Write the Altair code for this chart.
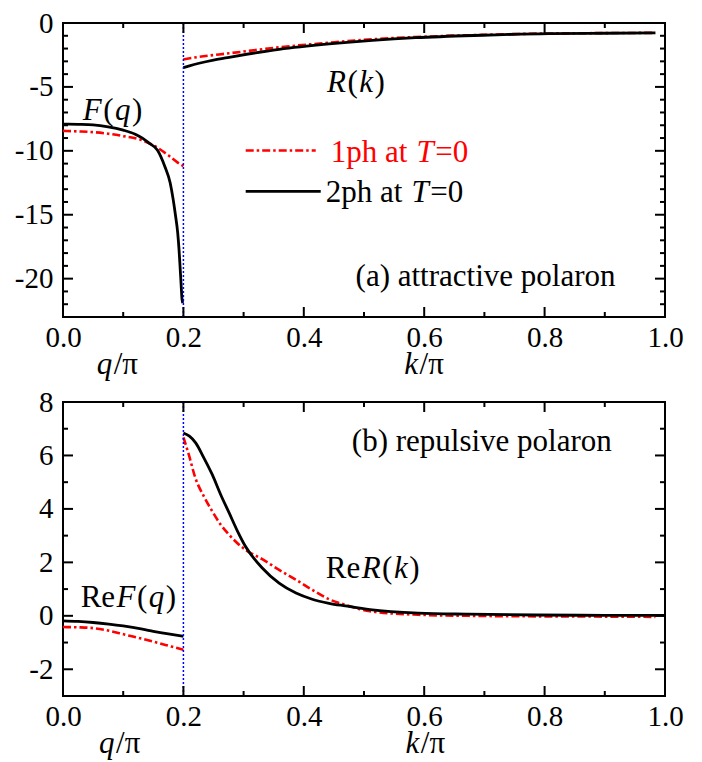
import altair as alt
import pandas as pd

# ---------------- data ----------------
# (a) attractive polaron : F(q) for q in [0,0.2], R(k) for k in [0.2,1]
a_F_1ph_q = [0.0, 0.025, 0.05, 0.075, 0.1, 0.13, 0.155, 0.175, 0.19, 0.2]
a_F_1ph_v = [-8.44, -8.48, -8.54, -8.66, -8.85, -9.15, -9.7, -10.35, -10.9, -11.2]
a_F_2ph_q = [0.0, 0.025, 0.05, 0.075, 0.1, 0.12, 0.132, 0.143, 0.157, 0.169, 0.178,
             0.183, 0.187, 0.1905, 0.1927, 0.1944, 0.196, 0.1977, 0.199]
a_F_2ph_v = [-7.91, -7.93, -7.97, -8.12, -8.38, -8.7, -9.01, -9.4, -9.95, -11.2, -12.5,
             -13.8, -15.1, -16.4, -17.7, -19.0, -20.3, -21.6, -21.9]
a_R_1ph_k = [0.2, 0.226, 0.276, 0.359, 0.442, 0.514, 0.586, 0.696, 0.807, 0.9, 0.984]
a_R_1ph_v = [-2.84, -2.65, -2.37, -1.9, -1.54, -1.27, -1.1, -0.93, -0.82, -0.79, -0.77]
a_R_2ph_k = [0.2, 0.21, 0.226, 0.25, 0.276, 0.359, 0.442, 0.514, 0.586, 0.696, 0.807, 0.9, 0.984]
a_R_2ph_v = [-3.49, -3.35, -3.15, -2.9, -2.68, -2.06, -1.64, -1.36, -1.15, -0.96, -0.83, -0.8, -0.78]

# (b) repulsive polaron : Re F(q), Re R(k)
b_F_1ph_q = [0.0, 0.025, 0.05, 0.075, 0.104, 0.13, 0.159, 0.18, 0.2]
b_F_1ph_v = [-0.42, -0.43, -0.46, -0.55, -0.71, -0.85, -1.02, -1.15, -1.27]
b_F_2ph_q = [0.0, 0.025, 0.05, 0.076, 0.1, 0.132, 0.15, 0.175, 0.2]
b_F_2ph_v = [-0.19, -0.21, -0.25, -0.31, -0.38, -0.5, -0.58, -0.68, -0.77]
b_R_1ph_k = [0.2, 0.209, 0.22, 0.234, 0.248, 0.262, 0.276, 0.303, 0.331, 0.359, 0.387,
             0.414, 0.442, 0.469, 0.51, 0.59, 0.674, 0.785, 0.9, 0.984]
b_R_1ph_v = [6.68, 6.03, 5.15, 4.47, 3.91, 3.41, 3.03, 2.47, 2.12, 1.72, 1.35,
             0.97, 0.62, 0.41, 0.17, 0.04, 0.0, -0.02, -0.03, -0.04]
b_R_2ph_k = [0.2, 0.21, 0.2204, 0.234, 0.248, 0.262, 0.276, 0.29, 0.303, 0.331, 0.359, 0.387,
             0.414, 0.442, 0.469, 0.51, 0.59, 0.674, 0.785, 0.9, 1.0]
b_R_2ph_v = [6.84, 6.72, 6.47, 5.91, 5.28, 4.53, 3.85, 3.16, 2.6, 1.79, 1.22, 0.85,
             0.62, 0.47, 0.37, 0.23, 0.1, 0.06, 0.03, 0.02, 0.02]

boundary = [0.2]
x_labels = [0.0, 0.2, 0.4, 0.6, 0.8, 1.0]
x_minor = [0.1, 0.3, 0.5, 0.7, 0.9]
a_y_labels = [-20, -15, -10, -5, 0]
a_y_minor = [v for v in range(-23, 1) if v % 5 != 0]
b_y_labels = [-2, 0, 2, 4, 6, 8]
b_y_minor = [-3, -1, 1, 3, 5, 7]

# ---------------- style / layout ----------------
FONT = "Liberation Serif, Times New Roman, serif"
FS = 31        # annotation text
FS_TICK = 29   # tick labels
W = 602
H = 294
RED = "#ff0000"
DASHDOT = [8, 3, 2.5, 3]

REG = {'(': .333, ')': .333, 'R': .667, 'e': .444, '1': .5, '2': .5, 'p': .5, 'h': .5,
       ' ': .25, 'a': .444, 't': .278, '=': .564, '0': .5, '/': .278, 'π': .55}
ITA = {'F': .611, 'q': .5, 'R': .611, 'k': .444, 'T': .556}

ONE = pd.DataFrame({"a": [0]})


def seg_width(txt, it):
    tab = ITA if it else REG
    return sum(tab.get(c, 0.5) for c in txt) * FS


def make_axes(ylabels):
    xaxis = alt.Axis(values=x_labels, format=".1f", ticks=False, domain=False, grid=False,
                     title=None, labelFont=FONT, labelFontSize=FS_TICK, labelColor="black",
                     labelPadding=6, labelFlush=False)
    yaxis = alt.Axis(values=ylabels, labelExpr="'' + datum.value", ticks=False, domain=False,
                     grid=False, title=None, labelFont=FONT, labelFontSize=FS_TICK,
                     labelColor="black", labelPadding=10)
    return xaxis, yaxis


class Ctx:
    def __init__(self, ydom, ylabels):
        self.xsc = alt.Scale(domain=[0, 1], nice=False, zero=False)
        self.ysc = alt.Scale(domain=ydom, nice=False, zero=False)
        self.xaxis, self.yaxis = make_axes(ylabels)

    def X(self, field=None, datum=None):
        if datum is not None:
            return alt.X(datum=datum, type="quantitative", scale=self.xsc, axis=self.xaxis)
        return alt.X(field, type="quantitative", scale=self.xsc, axis=self.xaxis)

    def Y(self, field=None, datum=None):
        if datum is not None:
            return alt.Y(datum=datum, type="quantitative", scale=self.ysc, axis=self.yaxis)
        return alt.Y(field, type="quantitative", scale=self.ysc, axis=self.yaxis)


def rich(parts, x, c, y=None, ypix=None, color="black", align="left"):
    gap = 1.5
    total = sum(seg_width(t, i) for t, i in parts) + gap * (len(parts) - 1)
    off = -total / 2 if align == "center" else 0
    layers = []
    for txt, it in parts:
        enc = {"x": c.X(datum=x)}
        enc["y"] = alt.value(ypix) if ypix is not None else c.Y(datum=y)
        layers.append(
            alt.Chart(ONE).mark_text(
                align="left", baseline="alphabetic", dx=off, font=FONT, fontSize=FS,
                fontStyle="italic" if it else "normal", color=color, text=txt
            ).encode(**enc)
        )
        off += seg_width(txt, it) + gap
    return layers


def curves(Fq1, Fv1, Fq2, Fv2, Rk1, Rv1, Rk2, Rv2):
    rows = []
    for xs, ys, s, p in [(Fq1, Fv1, "1ph", "F"), (Rk1, Rv1, "1ph", "R"),
                         (Fq2, Fv2, "2ph", "F"), (Rk2, Rv2, "2ph", "R")]:
        for a, b in zip(xs, ys):
            rows.append({"x": a, "v": b, "series": s, "part": p})
    return pd.DataFrame(rows)


def ticks(c, ymaj, ymin):
    layers = []
    for vals, L in [(x_labels, 10), (x_minor, 5)]:
        base = alt.Chart(pd.DataFrame({"t": vals})).mark_rule(color="black", strokeWidth=2)
        layers.append(base.encode(x=c.X("t"), y=alt.value(H), y2=alt.value(H - L)))
        layers.append(base.encode(x=c.X("t"), y=alt.value(0), y2=alt.value(L)))
    for vals, L in [(ymaj, 10), (ymin, 5)]:
        base = alt.Chart(pd.DataFrame({"t": vals})).mark_rule(color="black", strokeWidth=2)
        layers.append(base.encode(y=c.Y("t"), x=alt.value(0), x2=alt.value(L)))
        layers.append(base.encode(y=c.Y("t"), x=alt.value(W), x2=alt.value(W - L)))
    return layers


def panel(df, ydom, ylabels, yminor, texts):
    c = Ctx(ydom, ylabels)
    red = alt.Chart(df[df.series == "1ph"]).mark_line(
        color=RED, strokeWidth=2.6, strokeDash=DASHDOT, interpolate="monotone"
    ).encode(x=c.X("x"), y=c.Y("v"), detail="part:N")
    black = alt.Chart(df[df.series == "2ph"]).mark_line(
        color="black", strokeWidth=2.8, interpolate="monotone"
    ).encode(x=c.X("x"), y=c.Y("v"), detail="part:N")
    vline = alt.Chart(pd.DataFrame({"b": boundary})).mark_rule(
        color="#0000ff", strokeWidth=1.5, strokeDash=[2, 2]
    ).encode(x=c.X("b"))
    layers = [red, black, vline] + ticks(c, ylabels, yminor)
    for t in texts:
        layers += t(c)
    return alt.layer(*layers).properties(width=W, height=H)


dfa = curves(a_F_1ph_q, a_F_1ph_v, a_F_2ph_q, a_F_2ph_v, a_R_1ph_k, a_R_1ph_v, a_R_2ph_k, a_R_2ph_v)
dfb = curves(b_F_1ph_q, b_F_1ph_v, b_F_2ph_q, b_F_2ph_v, b_R_1ph_k, b_R_1ph_v, b_R_2ph_k, b_R_2ph_v)


def legend(c):
    l1 = alt.Chart(ONE).mark_rule(color=RED, strokeWidth=2.6, strokeDash=DASHDOT).encode(
        x=c.X(datum=0.3035), x2=alt.X2(datum=0.4198), y=c.Y(datum=-9.98))
    l2 = alt.Chart(ONE).mark_rule(color="black", strokeWidth=2.8).encode(
        x=c.X(datum=0.3035), x2=alt.X2(datum=0.4281), y=c.Y(datum=-13.18))
    return ([l1, l2]
            + rich([("1ph at ", False), ("T", True), ("=0", False)], 0.4447, c, y=-10.84, color=RED)
            + rich([("2ph at ", False), ("T", True), ("=0", False)], 0.4364, c, y=-14.04))


texts_a = [
    lambda c: rich([("F", True), ("(", False), ("q", True), (")", False)], 0.0329, c, y=-7.58),
    lambda c: rich([("R", True), ("(", False), ("k", True), (")", False)], 0.4385, c, y=-5.37),
    lambda c: rich([("(a) attractive polaron", False)], 0.7234, c, y=-20.55, align="center"),
    legend,
    lambda c: rich([("q", True), ("/π", False)], 0.056, c, ypix=H + 57),
    lambda c: rich([("k", True), ("/π", False)], 0.567, c, ypix=H + 57),
]
texts_b = [
    lambda c: rich([("Re", False), ("F", True), ("(", False), ("q", True), (")", False)], 0.0293, c, y=0.33),
    lambda c: rich([("Re", False), ("R", True), ("(", False), ("k", True), (")", False)], 0.4364, c, y=1.41),
    lambda c: rich([("(b) repulsive polaron", False)], 0.7243, c, y=6.15, align="center"),
    lambda c: rich([("q", True), ("/π", False)], 0.06, c, ypix=H + 57),
    lambda c: rich([("k", True), ("/π", False)], 0.569, c, ypix=H + 57),
]

top = panel(dfa, [-23, 0], a_y_labels, a_y_minor, texts_a)
bottom = panel(dfb, [-3, 8], b_y_labels, b_y_minor, texts_b)

chart = alt.vconcat(top, bottom, spacing=85, bounds="flush").properties(
    padding={"left": 5, "top": 0, "right": 5, "bottom": 0}, background="white"
).configure_view(stroke="black", strokeWidth=2)

chart.save("out.html", embed_options={"renderer": "svg", "actions": False})
